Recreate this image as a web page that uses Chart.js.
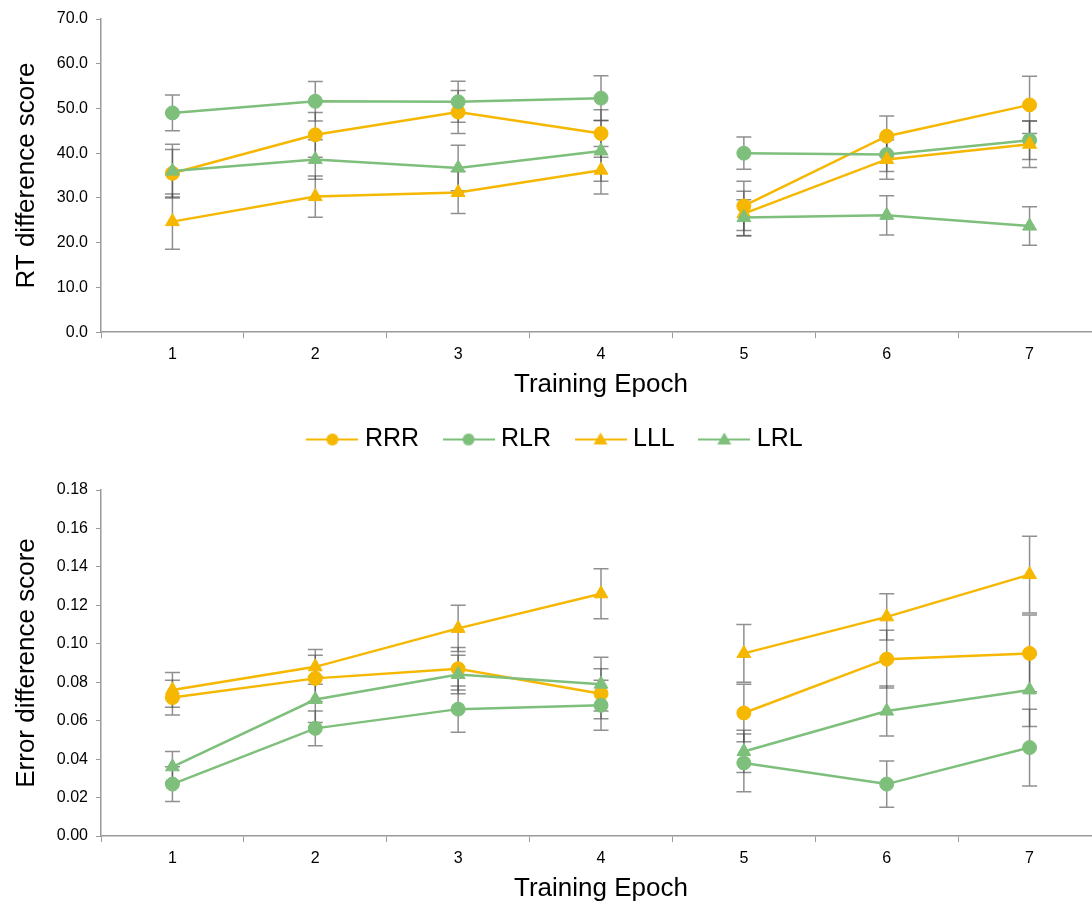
<!DOCTYPE html>
<html>
<head>
<meta charset="utf-8">
<title>Training Epoch difference scores</title>
<script src="https://cdn.jsdelivr.net/npm/chart.js@4.4.1/dist/chart.umd.min.js"></script>
<style>
  html, body { margin: 0; padding: 0; background: #fff; width: 1092px; height: 903px; overflow: hidden; }
  canvas { position: absolute; left: 0; }
  #rtChart { top: 0; }
  #errChart { top: 460px; }
</style>
</head>
<body>
<canvas id="rtChart" width="1110" height="462"></canvas>
<canvas id="errChart" width="1110" height="443"></canvas>
<script>
// Epoch labels on the shared x axis
const epochs = ['1', '2', '3', '4', '5', '6', '7'];
const seriesNames = ['RRR', 'RLR', 'LLL', 'LRL'];

// RT difference score (means and error-bar half widths)
const rtRRR = [35.5, 44.1, 49.2, 44.4, 28.2, 43.8, 50.8];
const rtRRRErr = [5.3, 5.0, 4.8, 5.3, 5.5, 4.5, 6.4];
const rtRLR = [49.0, 51.6, 51.5, 52.3, 40.0, 39.7, 42.9];
const rtRLRErr = [4.0, 4.4, 4.6, 5.0, 3.6, 3.8, 4.3];
const rtLLL = [24.7, 30.3, 31.2, 36.2, 26.5, 38.6, 42.0];
const rtLLLErr = [6.2, 4.6, 4.7, 5.3, 5.0, 4.4, 5.2];
const rtLRL = [36.0, 38.6, 36.7, 40.5, 25.6, 26.1, 23.7];
const rtLRLErr = [6.0, 4.4, 5.1, 6.8, 4.0, 4.4, 4.3];

// Error difference score (means and error-bar half widths)
const erRRR = [0.072, 0.082, 0.087, 0.074, 0.064, 0.092, 0.095];
const erRRRErr = [0.009, 0.012, 0.011, 0.013, 0.015, 0.015, 0.020];
const erRLR = [0.027, 0.056, 0.066, 0.068, 0.038, 0.027, 0.046];
const erRLRErr = [0.009, 0.009, 0.012, 0.013, 0.015, 0.012, 0.020];
const erLLL = [0.076, 0.088, 0.108, 0.126, 0.095, 0.114, 0.136];
const erLLLErr = [0.009, 0.009, 0.012, 0.013, 0.015, 0.012, 0.020];
const erLRL = [0.036, 0.071, 0.084, 0.079, 0.044, 0.065, 0.076];
const erLRLErr = [0.008, 0.012, 0.010, 0.014, 0.011, 0.013, 0.019];

// Axis tick settings
const rtTicks = { min: 0, max: 70, step: 10, digits: 1 };
const erTicks = { min: 0, max: 0.18, step: 0.02, digits: 2 };

const YELLOW = 'rgb(245,183,0)';
const GREEN = 'rgb(125,191,123)';
const AXIS = '#9a9a9a';
const FONT = '"Liberation Sans", Arial, Helvetica, sans-serif';
const BREAK_AFTER = 3; // the lines are not joined between epoch 4 and epoch 5

const styles = {
  RRR: { color: YELLOW, shape: 'circle', order: 4 },
  RLR: { color: GREEN, shape: 'circle', order: 3 },
  LLL: { color: YELLOW, shape: 'triangle', order: 2 },
  LRL: { color: GREEN, shape: 'triangle', order: 1 }
};

function makeSeries(name, values, errors) {
  const s = styles[name];
  return {
    label: name,
    data: values,
    errors: errors,
    order: s.order,
    borderColor: s.color,
    backgroundColor: s.color,
    borderWidth: 2.5,
    pointStyle: s.shape,
    pointRadius: s.shape === 'circle' ? 7 : 8,
    pointHoverRadius: s.shape === 'circle' ? 7 : 8,
    pointBorderWidth: 1,
    pointBorderColor: s.color,
    pointBackgroundColor: s.color,
    tension: 0,
    segment: {
      borderColor: ctx => ctx.p0DataIndex === BREAK_AFTER ? 'rgba(0,0,0,0)' : undefined
    }
  };
}

// Vertical error bars with caps, drawn under the lines and markers
const errorBars = {
  id: 'errorBars',
  beforeDatasetsDraw(chart) {
    const ctx = chart.ctx;
    const y = chart.scales.y;
    const cap = 7.5;
    ctx.save();
    ctx.strokeStyle = 'rgba(70,70,70,0.6)';
    ctx.lineWidth = 1.5;
    chart.data.datasets.forEach((ds, i) => {
      const meta = chart.getDatasetMeta(i);
      meta.data.forEach((pt, j) => {
        const v = ds.data[j], e = ds.errors[j];
        const yt = y.getPixelForValue(v + e);
        const yb = y.getPixelForValue(v - e);
        const x = pt.x;
        ctx.beginPath();
        ctx.moveTo(x, yt); ctx.lineTo(x, yb);
        ctx.moveTo(x - cap, yt); ctx.lineTo(x + cap, yt);
        ctx.moveTo(x - cap, yb); ctx.lineTo(x + cap, yb);
        ctx.stroke();
      });
    });
    ctx.restore();
  }
};

// Legend icon: a short line with the series marker in its middle
function legendIcon(name) {
  const s = styles[name];
  const c = document.createElement('canvas');
  c.width = 52; c.height = 18;
  const g = c.getContext('2d');
  g.strokeStyle = s.color;
  g.fillStyle = s.color;
  g.lineWidth = 2;
  g.beginPath(); g.moveTo(0, 9); g.lineTo(52, 9); g.stroke();
  g.beginPath();
  if (s.shape === 'circle') {
    g.arc(26, 9, 6, 0, Math.PI * 2);
  } else {
    g.moveTo(26, 2); g.lineTo(33, 14); g.lineTo(19, 14); g.closePath();
  }
  g.fill();
  return c;
}

function buildOptions(ticks, yTitle, withLegend, pad) {
  return {
    responsive: false,
    animation: false,
    events: [],
    layout: { padding: pad },
    plugins: {
      tooltip: { enabled: false },
      legend: withLegend ? {
        display: true,
        position: 'bottom',
        labels: {
          usePointStyle: true,
          pointStyleWidth: 40,
          padding: 29.5,
          color: '#000',
          font: { family: FONT, size: 25 },
          generateLabels: () => seriesNames.map((n, i) => ({
            text: n,
            pointStyle: legendIcon(n),
            fillStyle: styles[n].color,
            strokeStyle: styles[n].color,
            lineWidth: 0,
            hidden: false,
            datasetIndex: i,
            fontColor: '#000'
          }))
        }
      } : { display: false }
    },
    scales: {
      x: {
        type: 'category',
        offset: true,
        grid: { offset: true, drawOnChartArea: false, drawTicks: true, tickLength: 6, color: AXIS, lineWidth: 1 },
        border: { color: AXIS, width: 1.5 },
        ticks: { color: '#000', padding: 7, font: { family: FONT, size: 16 } },
        title: {
          display: true, text: 'Training Epoch', color: '#000',
          font: { family: FONT, size: 26 }, padding: { top: -2, bottom: -3 }
        }
      },
      y: {
        min: ticks.min,
        max: ticks.max,
        afterFit: s => { s.width = 88; },
        grid: { drawOnChartArea: false, drawTicks: true, tickLength: 5, color: AXIS, lineWidth: 1 },
        border: { color: AXIS, width: 1.5 },
        ticks: {
          stepSize: ticks.step,
          color: '#000',
          padding: 8,
          font: { family: FONT, size: 16 },
          callback: v => Number(v).toFixed(ticks.digits)
        },
        title: {
          display: true, text: yTitle, color: '#000',
          font: { family: FONT, size: 26 }, padding: { top: -2, bottom: 0 }
        }
      }
    }
  };
}

new Chart(document.getElementById('rtChart'), {
  type: 'line',
  data: {
    labels: epochs,
    datasets: [
      makeSeries('RRR', rtRRR, rtRRRErr),
      makeSeries('RLR', rtRLR, rtRLRErr),
      makeSeries('LLL', rtLLL, rtLLLErr),
      makeSeries('LRL', rtLRL, rtLRLErr)
    ]
  },
  options: buildOptions(rtTicks, 'RT difference score', true, { top: 19, right: 8, bottom: 0, left: 13 }),
  plugins: [errorBars]
});

new Chart(document.getElementById('errChart'), {
  type: 'line',
  data: {
    labels: epochs,
    datasets: [
      makeSeries('RRR', erRRR, erRRRErr),
      makeSeries('RLR', erRLR, erRLRErr),
      makeSeries('LLL', erLLL, erLLLErr),
      makeSeries('LRL', erLRL, erLRLErr)
    ]
  },
  options: buildOptions(erTicks, 'Error difference score', false, { top: 30, right: 8, bottom: 1.6, left: 13 }),
  plugins: [errorBars]
});
</script>
</body>
</html>
